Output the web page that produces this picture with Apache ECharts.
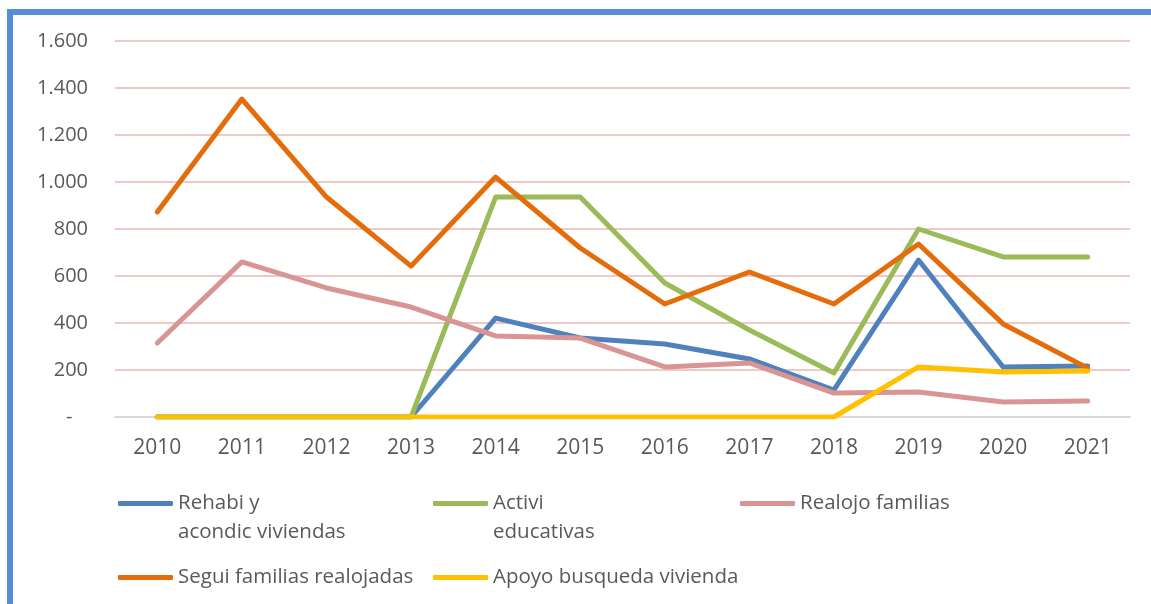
<!DOCTYPE html>
<html>
<head>
<meta charset="UTF-8">
<title>Vivienda 2010-2021</title>
<script src="https://cdn.jsdelivr.net/npm/echarts@6/dist/echarts.min.js"></script>
<style>
	html, body { margin: 0; padding: 0; background: #fff; }
	#chart { width: 1151px; height: 604px; }
</style>
</head>
<body>
	<div id="chart"></div>
	<script>
	// datos
	var years = ['2010','2011','2012','2013','2014','2015','2016','2017','2018','2019','2020','2021'];
	var rehabi = [0, 0, 0, 0, 421, 336, 311, 247, 115, 668, 213, 217];
	var activi = [0, 0, 0, 0, 936, 936, 570, 370, 187, 800, 681, 681];
	var realojo = [315, 660, 549, 468, 345, 336, 213, 230, 102, 106, 64, 68];
	var segui = [872, 1353, 936, 642, 1021, 719, 481, 617, 481, 736, 396, 208];
	var apoyo = [0, 0, 0, 0, 0, 0, 0, 0, 0, 213, 191, 196];
	var yTicks = [0, 200, 400, 600, 800, 1000, 1200, 1400, 1600];

	var names = ['Rehabi y\nacondic viviendas', 'Activi\neducativas', 'Realojo familias', 'Segui familias realojadas', 'Apoyo busqueda vivienda'];
	var colors = ['#4f81bd', '#9bbb59', '#d99594', '#e46c0a', '#ffc000'];
	var values = [rehabi, activi, realojo, segui, apoyo];

	var txt = '#595959';
	var font = 'Open Sans';

	function fmt(v){
		if (v === 0) return '-   ';
		return String(v).replace(/\B(?=(\d{3})+(?!\d))/g, '.');
	}

	var chart = echarts.init(document.getElementById('chart'));

	var series = [];
	for (var i = 0; i < names.length; i++){
		series.push({
			name: names[i],
			type: 'line',
			data: values[i],
			symbol: 'none',
			color: colors[i],
			lineStyle: { width: 5, cap: 'round', join: 'round' },
			z: 2 + i
		});
	}

	// una leyenda por elemento, colocadas como en el original
	// (linea vacia delante para que el icono quede a la altura de la primera linea)
	var legendPos = [[118, 460, true], [433, 460, true], [740, 489, false], [118, 563, false], [433, 563, false]];
	var legends = [];
	for (var j = 0; j < names.length; j++){
		var two = legendPos[j][2];
		legends.push({
			left: legendPos[j][0],
			top: legendPos[j][1],
			padding: 0,
			data: [{ name: names[j], icon: 'roundRect' }],
			formatter: two ? function(n){ return ' \n' + n; } : '{name}',
			itemWidth: 55,
			itemHeight: 5,
			itemGap: 0,
			selectedMode: false,
			textStyle: { color: txt, fontFamily: font, fontSize: 20.5, lineHeight: 29 }
		});
	}

	chart.setOption({
		animation: false,
		textStyle: { fontFamily: font },
		grid: { left: 115, right: 21, top: 41, bottom: 187 },
		legend: legends,
		graphic: [{
			type: 'polyline',
			shape: { points: [[10, 604], [10, 12], [1151, 12]] },
			style: { stroke: '#558ed5', lineWidth: 6, fill: null }
		}],
		xAxis: {
			type: 'category',
			data: years,
			boundaryGap: true,
			axisTick: { show: false },
			axisLine: { show: true, lineStyle: { color: '#d9d9d9', width: 2 } },
			axisLabel: { color: txt, fontSize: 21, margin: 21 }
		},
		yAxis: {
			type: 'value',
			min: yTicks[0],
			max: yTicks[yTicks.length - 1],
			interval: 200,
			axisLine: { show: false },
			axisTick: { show: false },
			splitLine: { lineStyle: { color: '#efc8c8', width: 2 } },
			axisLabel: { color: txt, fontSize: 20, margin: 27, formatter: fmt }
		},
		series: series
	});
	</script>
</body>
</html>
